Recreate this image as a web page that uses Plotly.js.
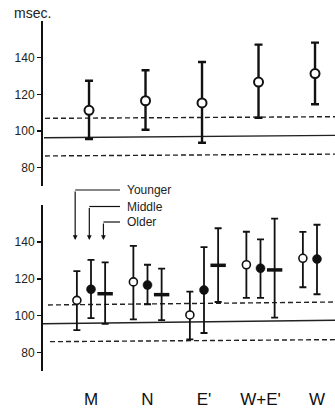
<!DOCTYPE html>
<html>
<head>
<meta charset="utf-8">
<script src="https://cdn.plot.ly/plotly-3.0.1.min.js"></script>
<style>html,body{margin:0;padding:0;background:#fff;}#chart{width:335px;height:408px;}</style>
</head>
<body>
<div id="chart"></div>
<script>
// ---- data ----
const categories = ["M", "N", "E'", "W+E'", "W"];
const yTicks = [80, 100, 120, 140];
const groupLabels = ["Younger", "Middle", "Older"];

// top panel (all subjects)
const topMean  = [111.3, 116.5, 115.3, 126.7, 131.3];
const topUpper = [127.4, 133.1, 137.6, 147.1, 148.2];
const topLower = [95.6, 100.7, 93.6, 107.2, 114.6];

// bottom panel by age group
const youngMean  = [108.3, 118.3, 100.4, 127.6, 131.1];
const youngUpper = [124.2, 137.8, 113.0, 145.5, 145.4];
const youngLower = [92.2, 98.0, 87.2, 109.7, 115.4];

const middleMean  = [114.3, 116.6, 113.9, 125.7, 130.7];
const middleUpper = [130.2, 127.6, 137.2, 141.4, 149.3];
const middleLower = [98.7, 106.2, 90.6, 109.7, 111.6];

const olderMean  = [111.9, 111.4, 127.3, 124.8, null];
const olderUpper = [128.9, 125.5, 147.4, 152.6, null];
const olderLower = [95.5, 97.6, 107.4, 98.9, null];

// reference band (left value, right value)
const topRefUpper = [106.9, 107.8];
const topRefMid   = [96.3, 97.6];
const topRefLower = [86.4, 87.4];
const botRefUpper = [105.8, 107.4];
const botRefMid   = [95.6, 97.5];
const botRefLower = [85.9, 87.0];

// ---- helpers ----
const idx = categories.map((c, i) => i);
const plus = (a, b) => a.map((v, i) => (v == null || b[i] == null) ? null : b[i] - v);
const minus = (a, b) => a.map((v, i) => (v == null || b[i] == null) ? null : v - b[i]);
const px2x = px => (px - 43) / 292;     // paper x
const py2y = py => (371 - py) / 350;    // paper y
const dx = px => (px - 91) / 56.5;      // data x

const FONT = "Liberation Sans, Arial, sans-serif";
const offs = [-0.25, 0, 0.25];

function errTrace(x, mean, up, lo, yaxis, marker, ew, thick) {
  return {
    type: "scatter", mode: "markers", x: x, y: mean, yaxis: yaxis,
    marker: marker, showlegend: false, hoverinfo: "skip",
    error_y: {type: "data", symmetric: false, array: plus(mean, up), arrayminus: minus(mean, lo),
              color: "#111", thickness: thick, width: ew}
  };
}
function refLine(xs, ys, yaxis, dash) {
  return {type: "scatter", mode: "lines", x: xs, y: ys, yaxis: yaxis, showlegend: false, hoverinfo: "skip",
          line: {color: "#222", width: 1.4, dash: dash}};
}

const xEnd = dx(335);
const traces = [
  refLine([dx(45), xEnd], topRefUpper, "y", "5px,3px"),
  refLine([dx(44), xEnd], topRefMid, "y", "solid"),
  refLine([dx(45), xEnd], topRefLower, "y", "5px,3px"),
  refLine([dx(48), xEnd], botRefUpper, "y2", "5px,3px"),
  refLine([dx(43), xEnd], botRefMid, "y2", "solid"),
  refLine([dx(50), xEnd], botRefLower, "y2", "5px,3px"),
  errTrace(idx.map(i => i - 0.035), topMean, topUpper, topLower, "y",
    {symbol: "circle", size: 9, color: "#fff", line: {color: "#111", width: 2}}, 4, 2.4),
  errTrace(idx.map(i => i + offs[0]), youngMean, youngUpper, youngLower, "y2",
    {symbol: "circle", size: 8, color: "#fff", line: {color: "#111", width: 1.6}}, 3.5, 1.8),
  errTrace(idx.map(i => i + offs[1]), middleMean, middleUpper, middleLower, "y2",
    {symbol: "circle", size: 9, color: "#111", line: {color: "#111", width: 0.5}}, 3.5, 1.8),
  errTrace(idx.map(i => i + offs[2]), olderMean, olderUpper, olderLower, "y2",
    {symbol: "line-ew", size: 11, color: "#111", line: {color: "#111", width: 3.5}}, 3.5, 1.8)
];

const yax = {
  range: [70, 160], tickvals: yTicks, ticks: "outside", ticklen: 4, tickwidth: 1.5, tickcolor: "#111",
  showline: true, linewidth: 2, linecolor: "#111", showgrid: false, zeroline: false,
  tickfont: {family: FONT, size: 12, color: "#222"}, fixedrange: true
};

const hy = [190, 206.5, 222];
const annotations = [
  {text: "msec.", xref: "paper", yref: "paper", x: px2x(32), y: py2y(13), xanchor: "center", yanchor: "middle",
   showarrow: false, font: {family: FONT, size: 14, color: "#222"}}
];
const shapes = [];
groupLabels.forEach((g, i) => {
  annotations.push({text: g, xref: "x", yref: "paper", x: dx(125), y: py2y(hy[i]), xanchor: "left", yanchor: "middle",
    showarrow: false, font: {family: FONT, size: 12, color: "#222"}});
  annotations.push({text: "", xref: "x", yref: "paper", x: offs[i] - 0.03, y: py2y(240),
    showarrow: true, arrowhead: 2, arrowsize: 0.8, arrowwidth: 1.2, arrowcolor: "#111",
    ax: 0, ay: -(240 - hy[i]), standoff: 0, startstandoff: 0});
  shapes.push({type: "line", xref: "x", yref: "paper", x0: offs[i] - 0.03, x1: dx(120), y0: py2y(hy[i]), y1: py2y(hy[i]),
    line: {color: "#111", width: 1.2}});
});

const layout = {
  width: 335, height: 408,
  margin: {l: 43, r: 0, t: 21, b: 37},
  paper_bgcolor: "#fff", plot_bgcolor: "#fff",
  showlegend: false,
  xaxis: {anchor: "y2", range: [dx(43), xEnd], tickvals: idx, ticktext: categories, ticks: "",
          showline: false, showgrid: false, zeroline: false, ticklabelstandoff: 16,
          tickfont: {family: FONT, size: 17, color: "#111"}, fixedrange: true},
  yaxis: Object.assign({}, yax, {domain: [py2y(186), 1]}),
  yaxis2: Object.assign({}, yax, {domain: [0, py2y(205)]}),
  annotations: annotations,
  shapes: shapes
};

Plotly.newPlot("chart", traces, layout, {displayModeBar: false, staticPlot: true});
</script>
</body>
</html>
